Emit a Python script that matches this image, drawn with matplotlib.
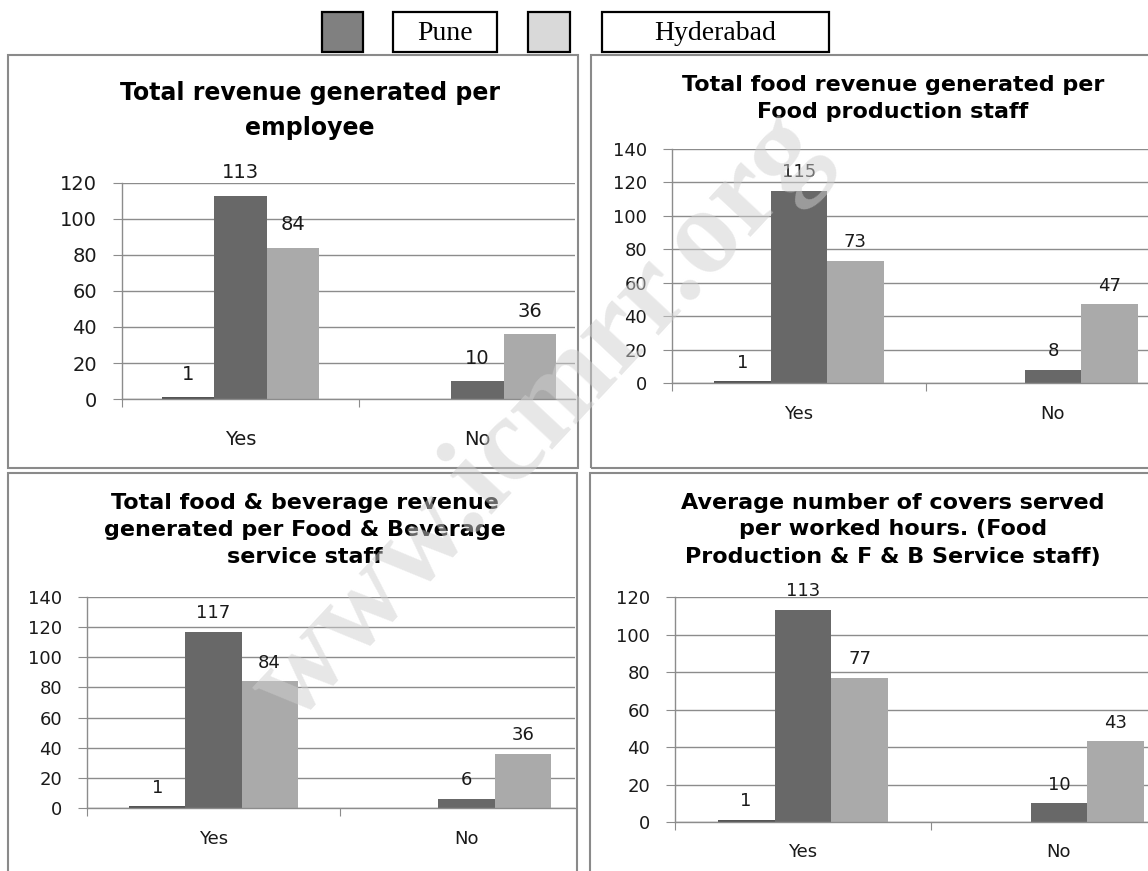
import matplotlib.pyplot as plt
from matplotlib.patches import Rectangle

# chart data
categories = ['Yes', 'No']
titles = [
    ['Total revenue generated per', 'employee'],
    ['Total food revenue generated per', 'Food production staff'],
    ['Total food & beverage revenue', 'generated per Food & Beverage', 'service staff'],
    ['Average number of covers served', 'per worked hours. (Food', 'Production & F & B Service staff)'],
]
base_values = [[1, None], [1, None], [1, None], [1, None]]
pune_values = [[113, 10], [115, 8], [117, 6], [113, 10]]
hyderabad_values = [[84, 36], [73, 47], [84, 36], [77, 43]]
y_max = [120, 140, 140, 120]

W, H = 1148, 871
fig = plt.figure(figsize=(W / 100, H / 100), dpi=100)


def px_rect(x0, y0, x1, y1, **kw):
    # rectangle given in pixel coords, y measured from the top
    r = Rectangle((x0 / W, 1 - y1 / H), (x1 - x0) / W, (y1 - y0) / H,
                  transform=fig.transFigure, figure=fig, **kw)
    fig.patches.append(r)
    return r


def px_text(x, y, s, **kw):
    return fig.text(x / W, 1 - y / H, s, **kw)


# legend strip
px_rect(322, 12, 363, 52, facecolor='#808080', edgecolor='black', lw=1.6)
px_rect(393, 12, 497, 52, facecolor='white', edgecolor='black', lw=1.6)
px_text(445, 33, 'Pune', family='Liberation Serif', fontsize=20, ha='center', va='center')
px_rect(528, 12, 570, 52, facecolor='#d9d9d9', edgecolor='black', lw=1.6)
px_rect(602, 12, 829, 52, facecolor='white', edgecolor='black', lw=1.6)
px_text(715, 33, 'Hyderabad', family='Liberation Serif', fontsize=20, ha='center', va='center')

# panel frames
border = dict(fill=False, edgecolor='#8a8a8a', lw=1.5)
px_rect(8, 55, 578, 468, **border)
px_rect(591, 55, 1152, 468, **border)
px_rect(8, 473, 577, 875, **border)
px_rect(590, 473, 1152, 875, **border)

# per panel: axis x, right edge, top gridline y, zero y, category width,
# title centre x, title line ys, title size, tick size, label offset, cat pad
layout = [
    (122, 575, 183, 399, 237, 310, [93, 128], 17, 14, 16.5, 22),
    (672, 1148, 149, 383, 254, 893, [85, 112], 16, 13, 13.5, 16),
    (87, 575, 597, 808, 253, 305, [503, 530, 557], 16, 13, 13.5, 16),
    (675, 1148, 597, 822, 256, 893, [503, 529, 557], 16, 13, 13.5, 15),
]

grid_col = '#8c8c8c'
w = 0.222
for i, (xl, xr, yt, yb, cw, tcx, tys, tsize, ksize, loff, cpad) in enumerate(layout):
    ax = fig.add_axes([xl / W, 1 - yb / H, (xr - xl) / W, (yb - yt) / H])
    ax.set_facecolor('none')

    xs = range(len(categories))
    groups = [(base_values[i], -w, '#555555'),
              (pune_values[i], 0, '#686868'),
              (hyderabad_values[i], w, '#aaaaaa')]
    for vals, off, col in groups:
        for x, v in zip(xs, vals):
            if v is None:
                continue
            ax.bar(x + off, v, w, color=col, zorder=2)
            ax.annotate(str(v), (x + off, v), xytext=(0, loff), textcoords='offset points',
                        ha='center', va='center', fontsize=ksize, color='#1a1a1a')

    ax.set_xlim(-0.5, (xr - xl) / cw - 0.5)
    ax.set_ylim(0, y_max[i])
    ax.set_yticks(range(0, y_max[i] + 1, 20))
    ax.yaxis.grid(True, color=grid_col, lw=1.0)
    ax.set_axisbelow(True)
    for s in ['top', 'right']:
        ax.spines[s].set_visible(False)
    for s in ['left', 'bottom']:
        ax.spines[s].set_color(grid_col)
        ax.spines[s].set_linewidth(1.0)

    ax.set_xticks([-0.5, 0.5])
    ax.set_xticklabels(['', ''])
    ax.set_xticks(list(xs), minor=True)
    ax.set_xticklabels(categories, minor=True)
    ax.tick_params(axis='x', which='major', length=6, color=grid_col, direction='out')
    ax.tick_params(axis='x', which='minor', length=0, pad=cpad, labelsize=ksize, labelcolor='#1a1a1a')
    ax.tick_params(axis='y', length=6.5, color=grid_col, pad=11.5, labelsize=ksize, labelcolor='#1a1a1a')

    for line, ty in zip(titles[i], tys):
        px_text(tcx, ty, line, fontsize=tsize, fontweight='bold', ha='center', va='center')

# site watermark
px_text(540, 420, 'www.icmrr.org', rotation=47, fontsize=88, fontweight='bold',
        family='Liberation Serif', color='#d0d0d0', alpha=0.5,
        ha='center', va='center', zorder=10)

fig.savefig('out.png', dpi=100)
